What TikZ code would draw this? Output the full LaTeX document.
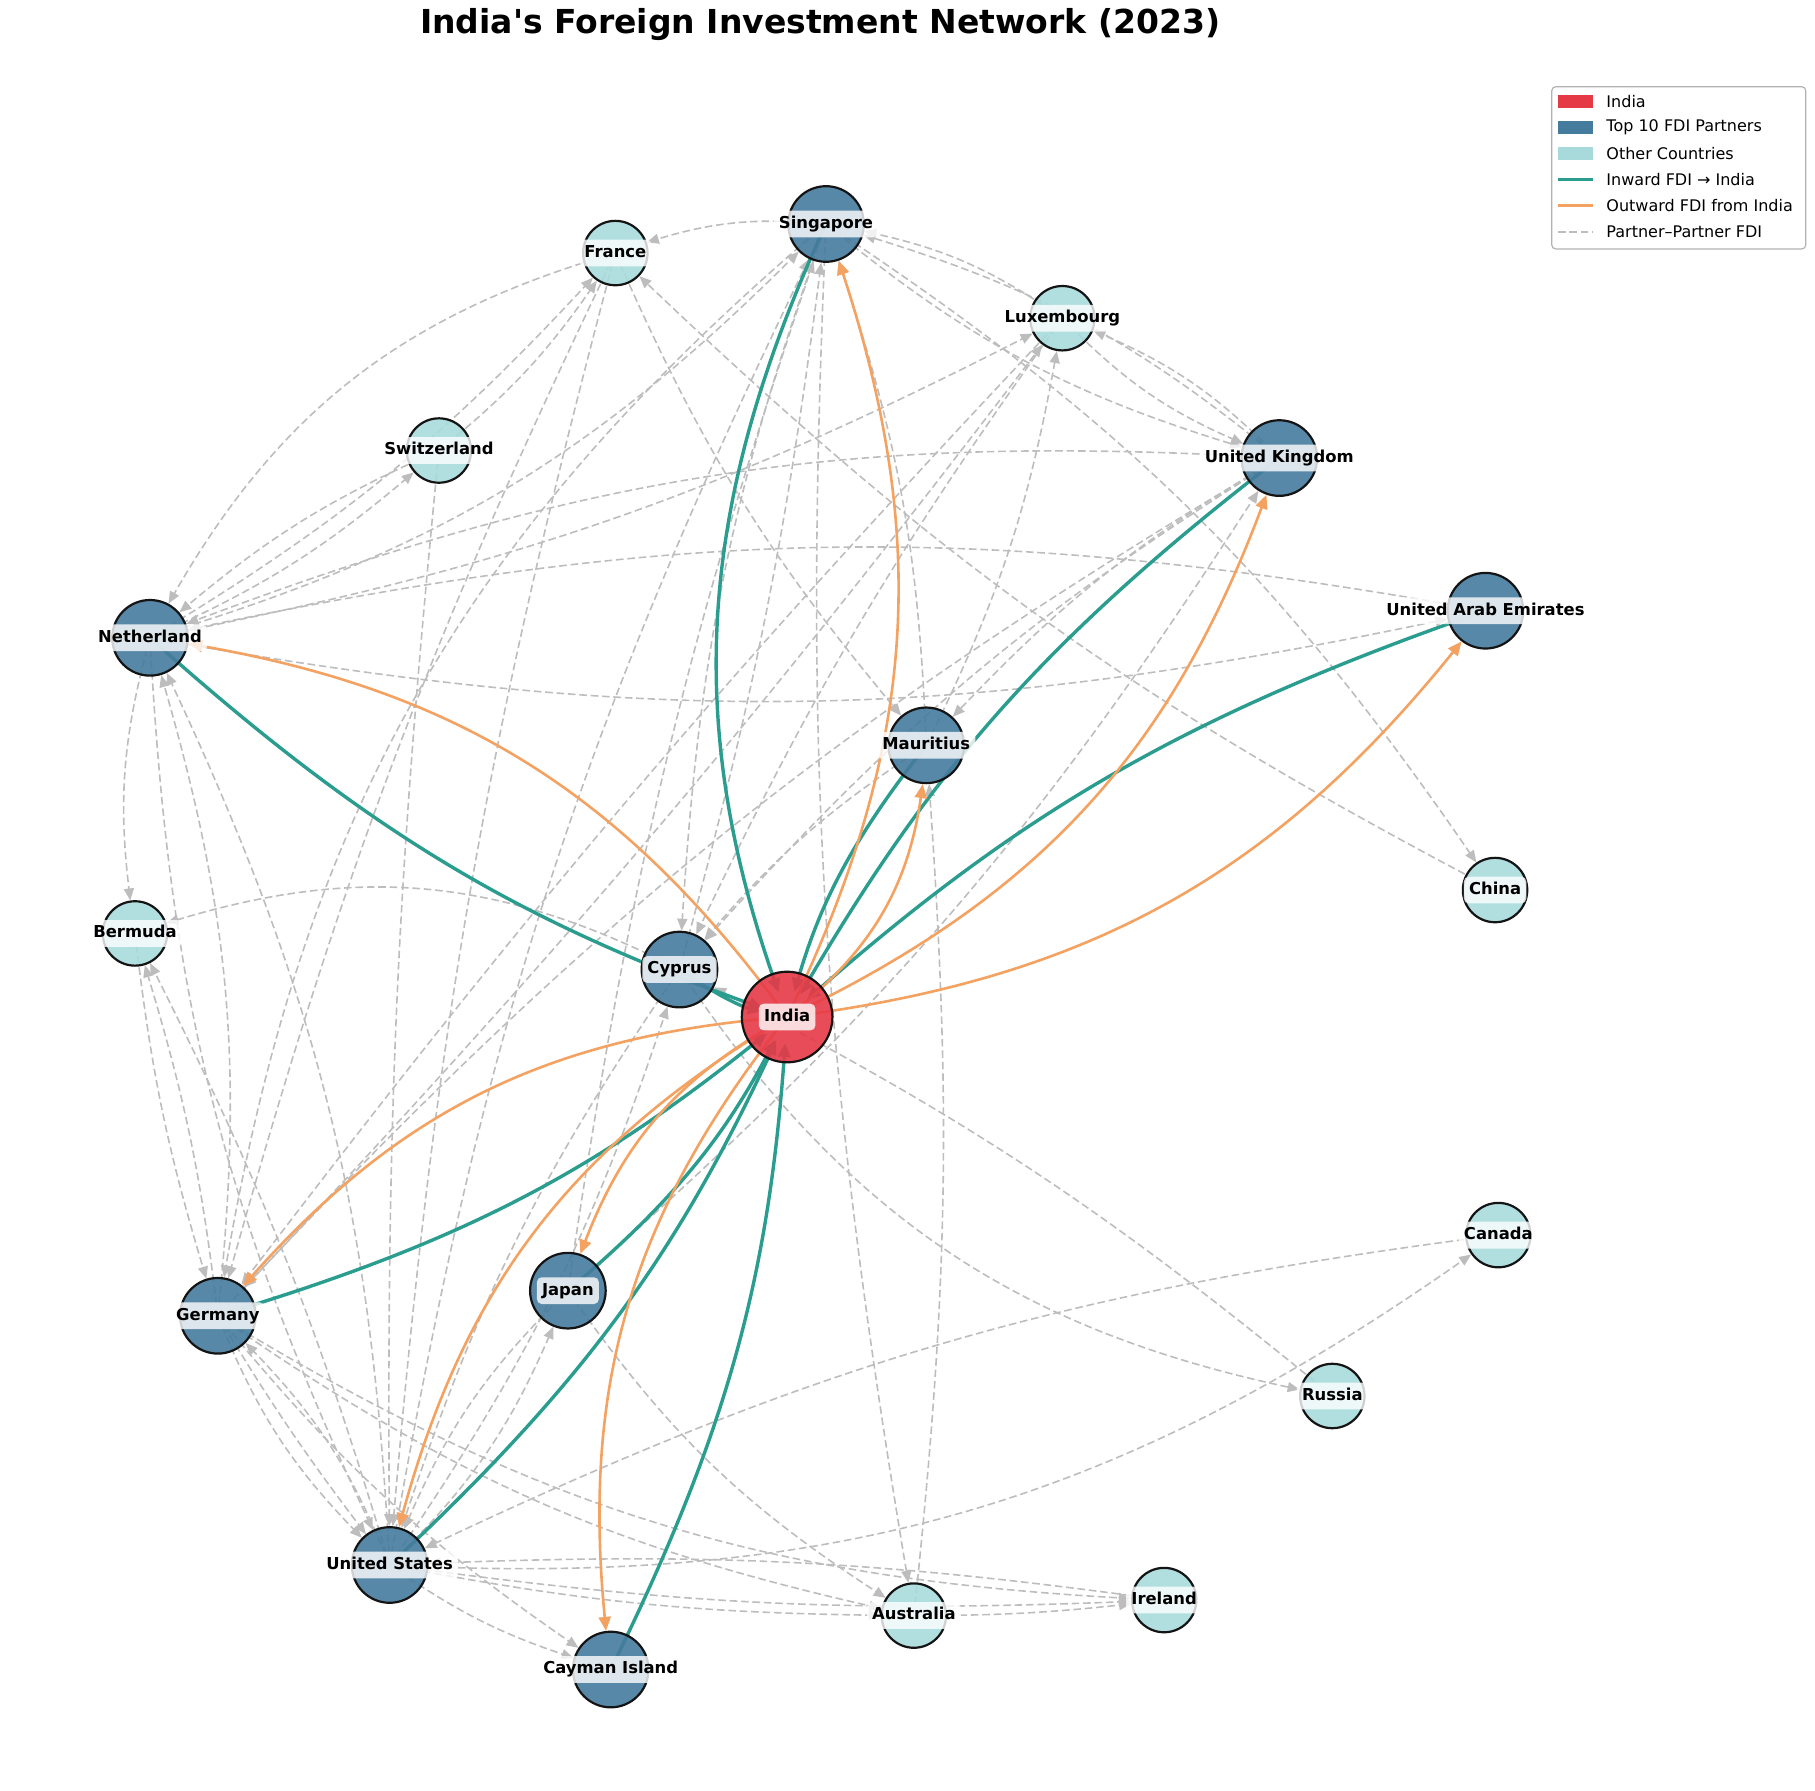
\documentclass[tikz,border=0pt]{standalone}
\usepackage{fontspec}
\newfontfamily\dv{DejaVu Sans}
\usetikzlibrary{arrows.meta}
\pgfdeclarelayer{edges}
\pgfsetlayers{edges,main}
\definecolor{cIndia}{HTML}{E63946}
\definecolor{cTop}{HTML}{457B9D}
\definecolor{cOther}{HTML}{A8DADC}
\definecolor{cIn}{HTML}{2A9D8F}
\definecolor{cOut}{HTML}{F4A261}
\definecolor{cPP}{HTML}{BDBDBD}
\begin{document}
\begin{tikzpicture}[x=0.5787pt,y=-0.5787pt,font=\dv,
  country/.style={circle, draw=black!92, line width=1.1pt, fill opacity=0.9, draw opacity=1, inner sep=0pt},
  indiabox/.style={country, fill=cIndia, minimum size=45.3pt},
  topbox/.style={country, fill=cTop, minimum size=37.8pt},
  otherbox/.style={country, fill=cOther, minimum size=32.2pt},
  lbl/.style={font=\dv\fontsize{8.2}{9}\selectfont\bfseries, fill=white, fill opacity=0.8, text opacity=1,
    rounded corners=2.5pt, inner xsep=2.6pt, inner ysep=2.8pt, text height=6.1pt, text depth=1.7pt},
  pp/.style={draw=cPP, line width=0.8pt, dash pattern=on 3.8pt off 1.9pt, -{Triangle[length=6pt,width=5pt]}},
  inw/.style={draw=cIn, line width=1.7pt, -{Triangle[length=7pt,width=6pt]}, shorten >=13pt},
  outw/.style={draw=cOut, line width=1.3pt, -{Triangle[length=7pt,width=6pt]}},
  legtext/.style={anchor=west, font=\dv\fontsize{8}{9}\selectfont, inner sep=0pt},
  legpatch/.style={minimum width=17.5pt, minimum height=6.5pt, inner sep=0pt},
]
\path[use as bounding box] (0,0) rectangle (1568,1546.4);

% ---- nodes ----
\node[indiabox] (IN) at (680,878.6) {};
\foreach \n/\x/\y in {SG/713.6/193.5, UK/1105.2/395.7, NL/129.6/551, AE/1283.3/527.6, MU/800.2/643.9,
    CY/587/837.6, DE/188.2/1136.7, JP/490.6/1115, US/336.6/1352, KY/527.6/1442.3}
  \node[topbox] (\n) at (\x,\y) {};
\foreach \n/\x/\y in {FR/531.6/218.6, LU/917.8/274.9, CH/379.2/389.2, CN/1291.6/768.9, BM/116.6/806.4,
    CA/1294.4/1067, RU/1151/1206, AU/789.5/1395.7, IE/1005.7/1382.3}
  \node[otherbox] (\n) at (\x,\y) {};

% ---- edges ----
\begin{pgfonlayer}{edges}
\foreach \s/\t/\b in {FR/NL/22, NL/FR/8, CH/FR/8, NL/CH/8, CH/NL/8, NL/SG/14, NL/LU/8, UK/NL/12,
    AE/NL/11, NL/AE/11, SG/FR/11, FR/MU/8, CN/FR/-8, SG/CN/-11, LU/SG/11, UK/SG/11, SG/UK/11,
    UK/LU/11, LU/UK/11, MU/LU/8, MU/SG/8, SG/CY/8, CY/SG/4, JP/SG/-5, SG/AU/6, SG/DE/20, US/SG/-8,
    LU/DE/3, DE/LU/3, LU/CY/5, UK/MU/8, UK/CY/8, UK/DE/8, JP/UK/8, MU/CY/8, AU/MU/5, CY/BM/22,
    CY/RU/22, RU/CY/6, NL/BM/11, DE/NL/11, NL/US/11, US/NL/11, BM/DE/5, DE/BM/5, US/BM/5, CH/US/3,
    FR/DE/5, FR/US/5, DE/US/11, US/DE/11, DE/US/3, US/JP/11, JP/US/11, US/CY/8, CY/US/8, DE/KY/8,
    US/KY/8, DE/AU/11, DE/IE/14, US/AU/5, US/IE/5, IE/US/5, AU/IE/3, JP/AU/11, US/CA/19, CA/US/9}
  \draw[pp] (\s.center) to[bend right=\b] (\t);
\foreach \s/\b in {SG/22, NL/11, UK/11, AE/11, MU/11, DE/11, JP/11, US/11, KY/11, CY/11}
  \draw[inw] (\s.center) to[bend right=\b] (IN.center);
\foreach \t/\b in {SG/22, NL/22, UK/22, AE/22, MU/22, DE/22, JP/20, US/22, KY/22}
  \draw[outw] (IN.center) to[bend right=\b] (\t);
\end{pgfonlayer}

% ---- labels ----
\foreach \n/\t in {IN/India, SG/Singapore, UK/United Kingdom, NL/Netherland, AE/United Arab Emirates,
    MU/Mauritius, CY/Cyprus, DE/Germany, JP/Japan, US/United States, KY/Cayman Island,
    FR/France, LU/Luxembourg, CH/Switzerland, CN/China, BM/Bermuda, CA/Canada, RU/Russia,
    AU/Australia, IE/Ireland}
  \node[lbl] (\n-l) at (\n.center) {\t};

% ---- title ----
\node[font=\dv\fontsize{16.5}{20}\selectfont\bfseries] (title) at (708.5,21) {India's Foreign Investment Network (2023)};

% ---- legend ----
\node[draw=black!30, line width=0.6pt, rounded corners=2pt, fill=white, minimum width=127pt, minimum height=81.1pt, inner sep=0pt] (legend) at (1450.3,145) {};
\node[legpatch, fill=cIndia] (lp1) at (1361.1,87.9) {};
\node[legpatch, fill=cTop] (lp2) at (1361.1,110) {};
\node[legpatch, fill=cOther] (lp3) at (1361.1,132.5) {};
\coordinate (la4) at (1346,154.9); \coordinate (lb4) at (1376.2,154.9);
\coordinate (la5) at (1346,177.7); \coordinate (lb5) at (1376.2,177.7);
\coordinate (la6) at (1346,200.2); \coordinate (lb6) at (1376.2,200.2);
\draw[cIn, line width=1.7pt] (la4) -- (lb4);
\draw[cOut, line width=1.4pt] (la5) -- (lb5);
\draw[cPP, line width=0.9pt, dash pattern=on 3.8pt off 1.9pt] (la6) -- (lb6);
\node[legtext] (lt1) at (1387.5,87.9) {India};
\node[legtext] (lt2) at (1387.5,110) {Top 10 FDI Partners};
\node[legtext] (lt3) at (1387.5,132.5) {Other Countries};
\node[legtext] (lt4) at (1387.5,154.9) {Inward FDI → India};
\node[legtext] (lt5) at (1387.5,177.7) {Outward FDI from India};
\node[legtext] (lt6) at (1387.5,200.2) {Partner–Partner FDI};
\end{tikzpicture}
\end{document}
